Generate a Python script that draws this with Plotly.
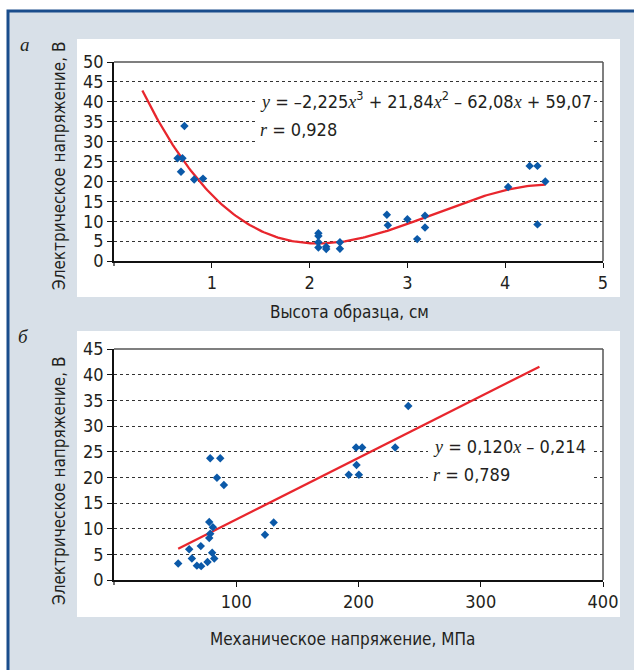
import numpy as np
import plotly.graph_objects as go

W, H = 634, 670

# ---- Data: panel a (height of sample, cm -> electric voltage, V)
height_cm = [0.65, 0.70, 0.72, 0.685, 0.82, 0.91,
             2.09, 2.09, 2.09, 2.09, 2.17, 2.17, 2.31, 2.31,
             2.79, 2.80, 3.00, 3.10, 3.18, 3.18,
             4.03, 4.25, 4.33, 4.33, 4.41]
voltage_a = [25.8, 25.8, 33.9, 22.4, 20.5, 20.7,
             7.0, 6.3, 4.7, 3.4, 3.6, 3.0, 4.7, 3.1,
             11.6, 9.0, 10.5, 5.5, 11.4, 8.4,
             18.6, 23.9, 23.9, 9.2, 20.0]
poly_coef_a = [-2.225, 21.84, -62.08, 59.07]   # cubic trendline coefficients
fit_range_a = [0.29, 4.41]

# ---- Data: panel b (mechanical stress, MPa -> electric voltage, V)
stress_mpa = [52.5, 61.5, 63.7, 67.8, 71.3, 71.0, 76.5, 78.7, 86.9, 84.2, 89.9,
              77.9, 80.9, 78.7, 77.9, 80.3, 82.0, 123.5, 130.6,
              192, 198, 203, 198.4, 200.3, 230, 240.7]
voltage_b = [3.2, 6.0, 4.2, 2.8, 2.7, 6.6, 3.5, 23.7, 23.7, 19.9, 18.5,
             11.3, 10.3, 9.0, 8.2, 5.3, 4.2, 8.8, 11.2,
             20.5, 25.8, 25.8, 22.4, 20.5, 25.8, 33.9]
lin_coef_b = [0.120, -0.214]
fit_range_b = [52.5, 348]

xticks_a = [1, 2, 3, 4, 5]
yticks_a = list(range(0, 51, 5))
xticks_b = [100, 200, 300, 400]
yticks_b = list(range(0, 46, 5))

eq_a = "y = –2,225x³ + 21,84x² – 62,08x + 59,07"
r_a = "r = 0,928"
eq_b = "y = 0,120x – 0,214"
r_b = "r = 0,789"

SANS = "DejaVu Sans Condensed, Liberation Sans Narrow, sans-serif"
SERIF = "Liberation Serif, DejaVu Serif, serif"
BLUE = "#0b59a8"
RED = "#e8262d"
TXT = "#231f20"


def px(x):
    return x / W


def py(y):
    return 1 - y / H


xa = np.linspace(fit_range_a[0], fit_range_a[1], 200)
ya = np.polyval(poly_coef_a, xa)
xb = np.array(fit_range_b)
yb = np.polyval(lin_coef_b, xb)

fig = go.Figure()
fig.add_trace(go.Scatter(x=xa, y=ya, mode="lines", line=dict(color=RED, width=2.3),
                         xaxis="x", yaxis="y", hoverinfo="skip"))
fig.add_trace(go.Scatter(x=height_cm, y=voltage_a, mode="markers",
                         marker=dict(symbol="diamond", size=6.5, color=BLUE, line=dict(width=0)),
                         xaxis="x", yaxis="y"))
fig.add_trace(go.Scatter(x=xb, y=yb, mode="lines", line=dict(color=RED, width=2.3),
                         xaxis="x2", yaxis="y2", hoverinfo="skip"))
fig.add_trace(go.Scatter(x=stress_mpa, y=voltage_b, mode="markers",
                         marker=dict(symbol="diamond", size=6.5, color=BLUE, line=dict(width=0)),
                         xaxis="x2", yaxis="y2"))

tickfont = dict(family=SANS, size=18, color=TXT)
axis_common = dict(showline=True, linecolor="#111", linewidth=1.5, ticks="outside",
                   ticklen=5, tickcolor="#111", tickwidth=1.2, tickfont=tickfont,
                   zeroline=False, fixedrange=True, automargin=False)

# plot-area pixel geometry
A_L, A_R, A_T, A_B = 114, 603, 62, 261
B_L, B_R, B_T, B_B = 114, 603, 349, 580

fig.update_layout(
    width=W, height=H, margin=dict(l=0, r=0, t=0, b=0, autoexpand=False),
    paper_bgcolor="white", plot_bgcolor="rgba(0,0,0,0)",
    showlegend=False,
    xaxis=dict(domain=[px(A_L), px(A_R)], range=[0, 5], tickvals=xticks_a,
               showgrid=False, anchor="y", **axis_common),
    yaxis=dict(domain=[py(A_B), py(A_T)], range=[0, 50], tickvals=yticks_a,
               showgrid=True, gridcolor="#333", griddash="dot", gridwidth=1,
               anchor="x", **axis_common),
    xaxis2=dict(domain=[px(B_L), px(B_R)], range=[0, 400], tickvals=xticks_b,
                showgrid=False, anchor="y2", **axis_common),
    yaxis2=dict(domain=[py(B_B), py(B_T)], range=[0, 45], tickvals=yticks_b,
                showgrid=True, gridcolor="#333", griddash="dot", gridwidth=1,
                anchor="x2", **axis_common),
)

shapes = []
# outer gray background with blue top/left border
shapes.append(dict(type="rect", xref="paper", yref="paper", x0=px(8), x1=px(700),
                   y0=py(800), y1=py(11), fillcolor="#d8e0e8",
                   line=dict(color="#1a4d8c", width=3), layer="below"))
# white panels
for (x0, y0, x1, y1) in [(77, 39, 620, 297), (77, 331, 620, 617)]:
    shapes.append(dict(type="rect", xref="paper", yref="paper", x0=px(x0), x1=px(x1),
                       y0=py(y1), y1=py(y0), fillcolor="white", line=dict(width=0),
                       layer="below"))
for (L, R, T, B) in [(A_L, A_R, A_T, A_B), (B_L, B_R, B_T, B_B)]:
    # gray frame top/right
    shapes.append(dict(type="line", xref="paper", yref="paper", x0=px(L), x1=px(R),
                       y0=py(T), y1=py(T), line=dict(color="#555", width=1.5), layer="above"))
    shapes.append(dict(type="line", xref="paper", yref="paper", x0=px(R), x1=px(R),
                       y0=py(T), y1=py(B), line=dict(color="#555", width=1.5), layer="above"))
    # tick mark below origin
    shapes.append(dict(type="line", xref="paper", yref="paper", x0=px(L), x1=px(L),
                       y0=py(B), y1=py(B + 5), line=dict(color="#111", width=1.2), layer="above"))
# white boxes behind equations (hide gridlines)
shapes.append(dict(type="rect", xref="paper", yref="paper", x0=px(256), x1=px(592),
                   y0=py(146), y1=py(89), fillcolor="white", line=dict(width=0), layer="above"))
shapes.append(dict(type="rect", xref="paper", yref="paper", x0=px(428), x1=px(593),
                   y0=py(487), y1=py(436), fillcolor="white", line=dict(width=0), layer="above"))
fig.update_layout(shapes=shapes)


def fmt_eq(s):
    # italic serif variables, superscripts
    out = ""
    for ch in s:
        if ch in "xyr":
            out += f'<span style="font-family:{SERIF};font-style:italic">{ch}</span>'
        elif ch == "³":
            out += "<sup>3</sup>"
        elif ch == "²":
            out += "<sup>2</sup>"
        else:
            out += ch
    return out


ann = []
eqfont = dict(family=SANS, size=18, color=TXT)
ann.append(dict(xref="paper", yref="paper", x=px(258), y=py(100), xanchor="left",
                yanchor="middle", text=fmt_eq(eq_a), showarrow=False, font=eqfont))
ann.append(dict(xref="paper", yref="paper", x=px(258), y=py(129), xanchor="left",
                yanchor="middle", text=fmt_eq(r_a), showarrow=False, font=eqfont))
ann.append(dict(xref="paper", yref="paper", x=px(431), y=py(446), xanchor="left",
                yanchor="middle", text=fmt_eq(eq_b), showarrow=False, font=eqfont))
ann.append(dict(xref="paper", yref="paper", x=px(431), y=py(474), xanchor="left",
                yanchor="middle", text=fmt_eq(r_b), showarrow=False, font=eqfont))
titlefont = dict(family=SANS, size=17, color=TXT)
ann.append(dict(xref="paper", yref="paper", x=px(59), y=py(166), textangle=-90,
                text="Электрическое напряжение, В", showarrow=False, font=titlefont,
                xanchor="center", yanchor="middle"))
ann.append(dict(xref="paper", yref="paper", x=px(59), y=py(481), textangle=-90,
                text="Электрическое напряжение, В", showarrow=False, font=titlefont,
                xanchor="center", yanchor="middle"))
ann.append(dict(xref="paper", yref="paper", x=px(349), y=py(312),
                text="Высота образца, см", showarrow=False, font=titlefont,
                xanchor="center", yanchor="middle"))
ann.append(dict(xref="paper", yref="paper", x=px(342), y=py(639),
                text="Механическое напряжение, МПа", showarrow=False, font=titlefont,
                xanchor="center", yanchor="middle"))
letterfont = dict(family=SERIF, size=19, color=TXT)
ann.append(dict(xref="paper", yref="paper", x=px(25), y=py(44), text="<i>а</i>",
                showarrow=False, font=letterfont, xanchor="center", yanchor="middle"))
ann.append(dict(xref="paper", yref="paper", x=px(23), y=py(336), text="<i>б</i>",
                showarrow=False, font=letterfont, xanchor="center", yanchor="middle"))
fig.update_layout(annotations=ann)

fig.write_html("out.html")
